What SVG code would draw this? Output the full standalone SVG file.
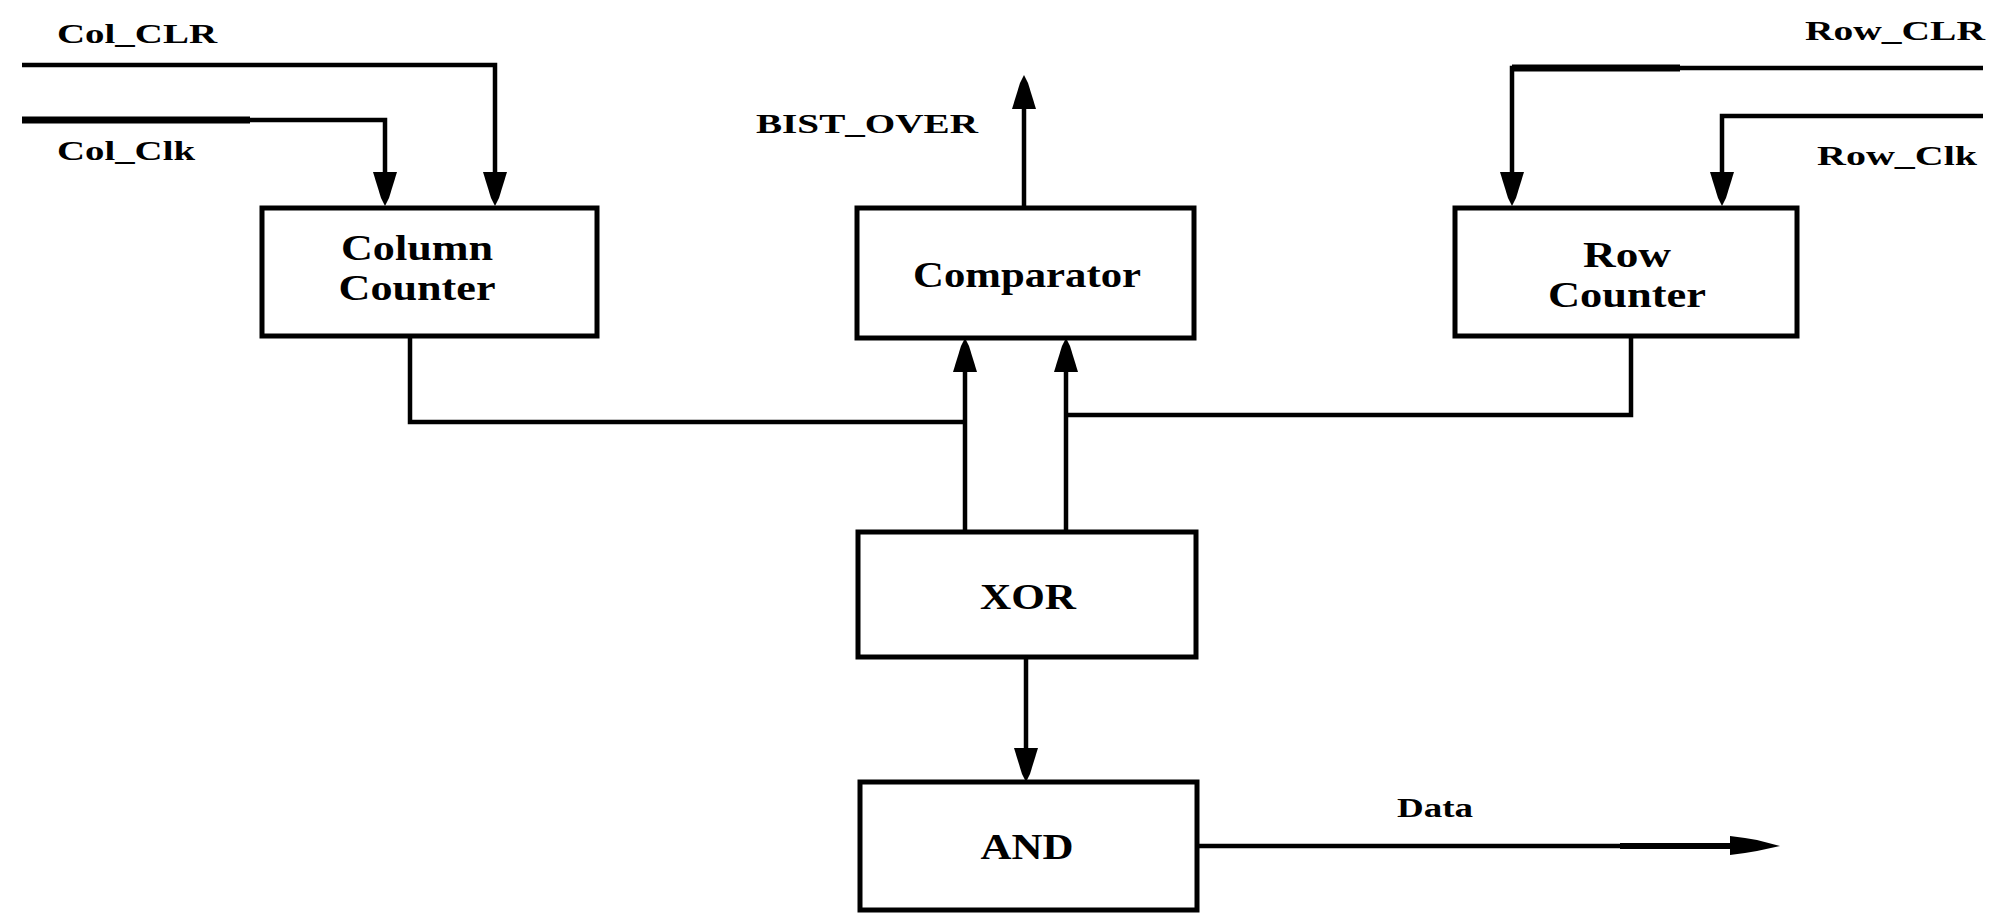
<svg xmlns="http://www.w3.org/2000/svg" width="1991" height="914" viewBox="0 0 1991 914">
<style>
.box{fill:#fff;stroke:#000;stroke-width:5}
.wire{fill:none;stroke:#000;stroke-width:4.5;stroke-linejoin:miter}
.head{fill:#000;stroke:none}
.lbl{font-family:"Liberation Serif","Times New Roman",serif;font-weight:bold;font-size:28px;fill:#000}
.nt{font-family:"Liberation Serif","Times New Roman",serif;font-weight:bold;font-size:36px;fill:#000;text-anchor:middle}
</style>
<defs>
<polygon id="down" points="-12,-34 12,-34 4,-8 0,0 -4,-8"/>
<polygon id="up" points="-12,34 12,34 4,8 0,0 -4,8"/>
</defs>
<rect width="1991" height="914" fill="#fff"/>

<g id="connectors">
<path class="wire" d="M22,65 H495 V176"/>
<use href="#down" class="head" x="495" y="206"/>
<path class="wire" d="M22,120 H385 V176"/>
<path d="M22,120 H250" fill="none" stroke="#000" stroke-width="7"/>
<use href="#down" class="head" x="385" y="206"/>
<path class="wire" d="M1983,68 H1512 V176"/>
<path d="M1512,68 H1680" fill="none" stroke="#000" stroke-width="7"/>
<use href="#down" class="head" x="1512" y="206"/>
<path class="wire" d="M1983,116 H1722 V176"/>
<use href="#down" class="head" x="1722" y="206"/>
<path class="wire" d="M1024,208 V105"/>
<use href="#up" class="head" x="1024" y="75"/>
<path class="wire" d="M410,336 V422 H965"/>
<path class="wire" d="M1631,336 V415 H1066"/>
<path class="wire" d="M965,532 V368"/>
<use href="#up" class="head" x="965" y="338"/>
<path class="wire" d="M1066,532 V368"/>
<use href="#up" class="head" x="1066" y="338"/>
<path class="wire" d="M1026,657 V752"/>
<use href="#down" class="head" x="1026" y="782"/>
<path class="wire" d="M1197,846 H1732"/>
<path d="M1620,846 H1732" fill="none" stroke="#000" stroke-width="6"/>
<polygon class="head" points="1730,836 1745,838 1757,840 1780,846 1757,851 1745,853 1730,855"/>
</g>

<g id="col_counter">
<rect class="box" x="262" y="208" width="335" height="128"/>
<text class="nt" x="417" y="260" textLength="152" lengthAdjust="spacingAndGlyphs">Column</text>
<text class="nt" x="417" y="300" textLength="157" lengthAdjust="spacingAndGlyphs">Counter</text>
</g>

<g id="comparator">
<rect class="box" x="857" y="208" width="337" height="130"/>
<text class="nt" x="1027" y="287" textLength="228" lengthAdjust="spacingAndGlyphs">Comparator</text>
</g>

<g id="row_counter">
<rect class="box" x="1455" y="208" width="342" height="128"/>
<text class="nt" x="1627" y="267" textLength="88" lengthAdjust="spacingAndGlyphs">Row</text>
<text class="nt" x="1627" y="307" textLength="158" lengthAdjust="spacingAndGlyphs">Counter</text>
</g>

<g id="xor">
<rect class="box" x="858" y="532" width="338" height="125"/>
<text class="nt" x="1028" y="609" textLength="96" lengthAdjust="spacingAndGlyphs">XOR</text>
</g>

<g id="and">
<rect class="box" x="860" y="782" width="337" height="128"/>
<text class="nt" x="1027" y="859" textLength="93" lengthAdjust="spacingAndGlyphs">AND</text>
</g>

<g id="labels">
<text class="lbl" x="57" y="43" textLength="160" lengthAdjust="spacingAndGlyphs">Col_CLR</text>
<text class="lbl" x="57" y="160" textLength="138" lengthAdjust="spacingAndGlyphs">Col_Clk</text>
<text class="lbl" x="756" y="133" textLength="222" lengthAdjust="spacingAndGlyphs">BIST_OVER</text>
<text class="lbl" x="1805" y="40" textLength="180" lengthAdjust="spacingAndGlyphs">Row_CLR</text>
<text class="lbl" x="1817" y="165" textLength="160" lengthAdjust="spacingAndGlyphs">Row_Clk</text>
<text class="lbl" x="1397" y="817" textLength="76" lengthAdjust="spacingAndGlyphs">Data</text>
</g>
</svg>
